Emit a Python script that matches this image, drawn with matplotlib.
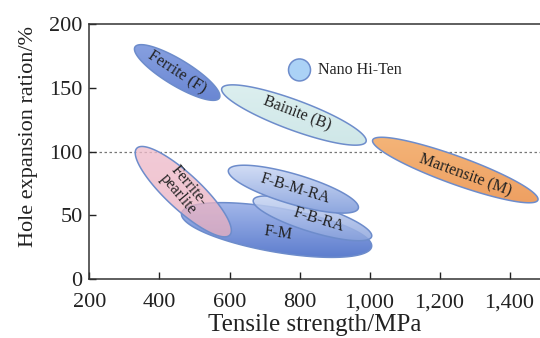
import numpy as np
import matplotlib
matplotlib.use("Agg")
import matplotlib.pyplot as plt
from matplotlib.patches import Polygon, Circle
from matplotlib.colors import LinearSegmentedColormap

plt.rcParams['font.family'] = ['Liberation Serif', 'DejaVu Serif']

# steel classes: major axis end points (strength MPa, hole expansion %)
names = ['F-M', 'Ferrite-\npearlite', 'F-B-RA', 'F-B-M-RA',
         'Ferrite (F)', 'Bainite (B)', 'Martensite (M)']
start_ts = [463, 335, 668, 597, 330, 578, 1009]
start_her = [51.7, 102.6, 62.1, 85.6, 182, 149.6, 109.1]
end_ts = [1006, 601, 1006, 968, 571, 990, 1481]
end_her = [25.5, 34.7, 33.4, 55.6, 142, 107.8, 62.1]

# label positions inside ellipses
label_ts = [739, 470, 854, 787, 450, 792, 1273]
label_her = [36, 70, 46.5, 71.3, 162.2, 130, 81.7]

nano_ts, nano_her = 800, 164

x_ticks = [200, 400, 600, 800, 1000, 1200, 1400]
x_tick_labels = ['200', '400', '600', '800', '1,000', '1,200', '1,400']
y_ticks = [0, 50, 100, 150, 200]

# styling per ellipse
half_width = [22, 17.5, 13.5, 15, 13, 15, 14]
rotations = [-8, -50, -17, -17, -33, -21, -20]
fills = [('#a3b7ea', '#5e7ece'), ('#f0bccb', '#e8b0c0'), ('#c6d4f2', '#8ca4dd'),
         ('#d2ddf5', '#8ea7df'), ('#87a0e0', '#6a87d3'), ('#dcefef', '#cfe7e8'),
         ('#f4b478', '#eea062')]
alphas = [1.0, 0.78, 0.85, 1.0, 1.0, 1.0, 1.0]
edge = '#6d8ccb'

fig = plt.figure(figsize=(5.4, 3.38), dpi=100)
ax = fig.add_axes([0.1657, 0.1737, 0.8343, 0.7553])
ax.set_xlim(200, 1487)
ax.set_ylim(0, 200)


def ellipse_pts(p1, p2, hw):
    t = ax.transData
    d1, d2 = t.transform([p1, p2])
    c = (d1 + d2) / 2
    u = (d2 - d1) / 2
    a = np.hypot(*u)
    u = u / a
    v = np.array([-u[1], u[0]])
    th = np.linspace(0, 2 * np.pi, 240)
    pts = c + a * np.cos(th)[:, None] * u + hw * np.sin(th)[:, None] * v
    return t.inverted().transform(pts)


for i, name in enumerate(names):
    pts = ellipse_pts((start_ts[i], start_her[i]), (end_ts[i], end_her[i]), half_width[i])
    z = 2 + i
    poly = Polygon(pts, closed=True, facecolor='none', edgecolor=edge, lw=1.1, zorder=z + 0.5)
    ax.add_patch(poly)
    cmap = LinearSegmentedColormap.from_list('g%d' % i, [fills[i][1], fills[i][0]])
    grad = np.linspace(0, 1, 100)[:, None]
    x0, x1 = pts[:, 0].min(), pts[:, 0].max()
    y0, y1 = pts[:, 1].min(), pts[:, 1].max()
    im = ax.imshow(grad, extent=[x0, x1, y0, y1], origin='lower', aspect='auto',
                   cmap=cmap, alpha=alphas[i], zorder=z, interpolation='bilinear')
    im.set_clip_path(poly)
    ax.text(label_ts[i], label_her[i], name, rotation=rotations[i], ha='center', va='center',
            fontsize=11.5, color='#222222', zorder=20, linespacing=0.85,
            rotation_mode='anchor')

# Nano Hi-Ten marker
t = ax.transData
cx, cy = t.transform((nano_ts, nano_her))
ax.add_patch(Circle((cx, cy), 11, transform=None, facecolor='#abd2f6', edgecolor=edge,
                    lw=1.1, zorder=15))
ax.text(nano_ts + 54, nano_her, 'Nano Hi-Ten', ha='left', va='center', fontsize=11.5,
        color='#222222', zorder=20)

ax.axhline(100, color='#777777', lw=0.9, ls=(0, (2, 2)), zorder=1)

ax.set_xlim(200, 1487)
ax.set_ylim(0, 200)
ax.set_xticks(x_ticks)
ax.set_xticklabels(x_tick_labels)
ax.set_yticks(y_ticks)
ax.tick_params(direction='in', length=5, width=1, labelsize=16, colors='#222222')
ax.tick_params(axis='x', pad=10)
ax.tick_params(axis='y', pad=5)
ax.spines['right'].set_visible(False)
for s in ['left', 'top', 'bottom']:
    ax.spines[s].set_linewidth(1.1)
    ax.spines[s].set_color('#333333')
ax.set_xlabel('Tensile strength/MPa', fontsize=18, labelpad=1, color='#222222')
ax.set_ylabel('Hole expansion ration/%', fontsize=16, color='#222222')
ax.yaxis.set_label_coords(-0.115, 0.56)

fig.savefig('out.png', dpi=100)
